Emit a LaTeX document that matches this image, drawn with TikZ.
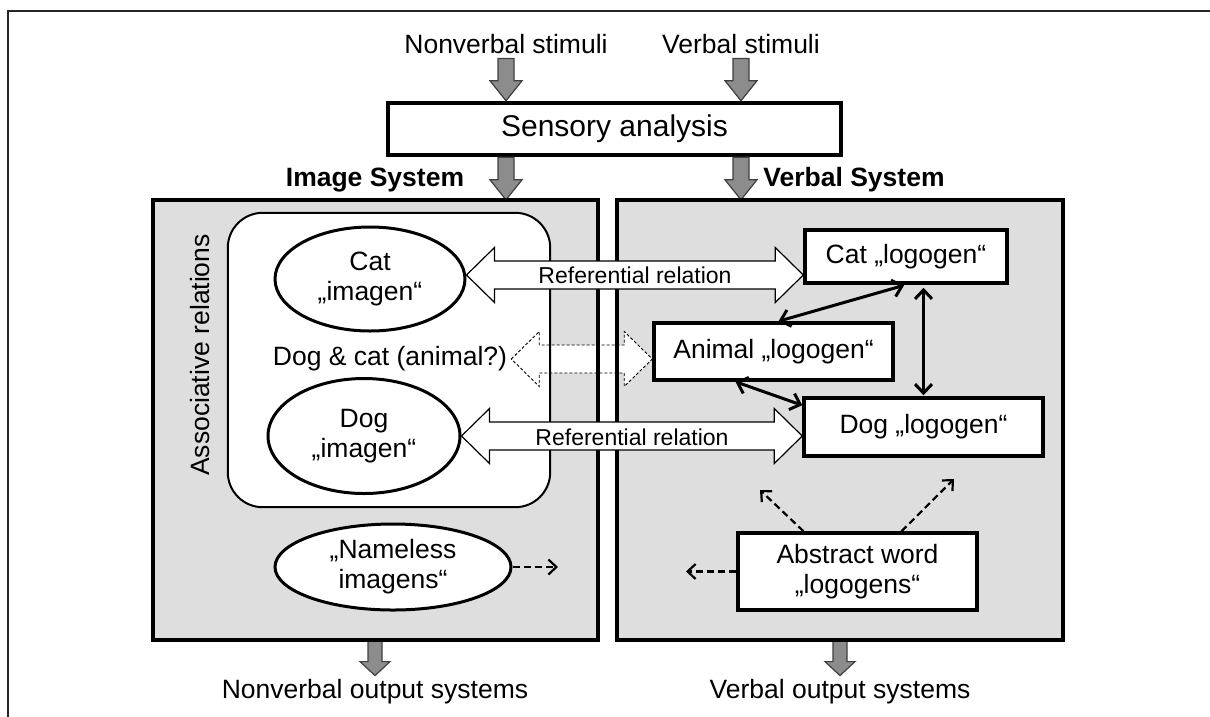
\documentclass[tikz,border=0pt]{standalone}
\usepackage{fontspec}
\setmainfont{Liberation Sans}
\usetikzlibrary{shapes.geometric,arrows.meta,calc}
\definecolor{boxgray}{HTML}{DEDEDE}
\definecolor{arrgray}{HTML}{8C8C8C}
\definecolor{arrborder}{HTML}{404040}
\newcommand{\fsmain}{\fontsize{26.5}{30}\selectfont}
% gray block arrow: start, tip, shaft half width, head half width, head length
\newcommand{\grayarrow}[5]{\draw[grayarr] let \p1=(#1),\p2=(#2) in
  (\x1-#3,\y1) -- (\x1+#3,\y1) -- (\x1+#3,\y2+#5) -- (\x1+#4,\y2+#5) -- (\x1,\y2)
  -- (\x1-#4,\y2+#5) -- (\x1-#3,\y2+#5) -- cycle;}
% horizontal double block arrow: style, left tip, right tip (y of left tip)
\newcommand{\dblblock}[3]{\draw[#1] let \p1=(#2),\p2=(#3) in
  (\x1,\y1) -- (\x1+28,\y1+27.5) -- (\x1+28,\y1+14) -- (\x2-28,\y1+14) -- (\x2-28,\y1+27.5)
  -- (\x2,\y1) -- (\x2-28,\y1-27.5) -- (\x2-28,\y1-14) -- (\x1+28,\y1-14) -- (\x1+28,\y1-27.5) -- cycle;}
\begin{document}
\begin{tikzpicture}[x=1pt,y=-1pt,
  txt/.style={font=\fsmain, inner sep=0pt, align=center},
  txtb/.style={font=\fsmain\bfseries, inner sep=0pt},
  sysfill/.style={rectangle, fill=boxgray, draw=none, inner sep=0pt},
  sysborder/.style={draw=black, line width=4.5pt},
  sensbox/.style={rectangle, draw=black, fill=white, line width=4.5pt, font=\fontsize{30}{34}\selectfont, inner sep=0pt},
  logbox/.style={rectangle, draw=black, fill=white, line width=3.5pt, font=\fsmain, align=center, inner sep=0pt},
  img/.style={ellipse, draw=black, fill=white, line width=3pt, font=\fsmain, align=center, inner sep=0pt},
  grayarr/.style={fill=arrgray, draw=arrborder, line width=1.2pt},
  refarr/.style={fill=white, draw=black, line width=1.2pt},
  dasharr/.style={fill=white, draw=black, line width=0.9pt, dash pattern=on 3pt off 2pt},
  reltxt/.style={font=\fontsize{23}{26}\selectfont, inner sep=0pt},
  dbl/.style={draw=black, line width=3pt, {Straight Barb[length=9pt,width=17pt]}-{Straight Barb[length=9pt,width=17pt]}},
  dsh/.style={draw=black, line width=2.2pt, dash pattern=on 7pt off 4pt, -{Straight Barb[length=8pt,width=15pt]}}
]
\useasboundingbox (0,0) rectangle (1210,716);
% outer frame (cut at the picture edge)
\draw[line width=2pt, black!85] (8,720) -- (8,11) -- (1215,11);

% top texts
\node[txt, anchor=base] (nvs) at (506,53) {Nonverbal stimuli};
\node[txt, anchor=base] (vs) at (741,53) {Verbal stimuli};
\node[sensbox, minimum width=453pt, minimum height=52pt] (sens) at (614.5,129) {Sensory analysis};

% system boxes (fills)
\node[sysfill, minimum width=445pt, minimum height=440pt] (imgbox) at (375.5,420) {};
\node[sysfill, minimum width=446pt, minimum height=440pt] (vbox) at (840,420) {};
\node[rectangle, fill=white, rounded corners=35pt, minimum width=322pt, minimum height=294pt, inner sep=0pt] (assoc) at (389,360) {};

\node[txtb, anchor=base] (imgsys) at (375,186) {Image System};
\node[txtb, anchor=base] (vsys) at (854,186) {Verbal System};

\node[txt, anchor=base] (nvout) at (375,698) {Nonverbal output systems};
\node[txt, anchor=base] (vout) at (840,698) {Verbal output systems};

% gray arrows
\grayarrow{$(nvs.south)+(0,5)$}{sens.north -| nvs.south}{8}{16}{20}
\grayarrow{$(vs.south)+(0,5)$}{sens.north -| vs.south}{8}{16}{20}
\grayarrow{sens.south -| nvs.south}{imgbox.north -| nvs.south}{8}{16}{20}
\grayarrow{sens.south -| vs.south}{vbox.north -| vs.south}{8}{16}{20}
\grayarrow{imgbox.south -| nvout.north}{$(nvout.north)+(0,-3)$}{7}{15}{14}
\grayarrow{vbox.south -| vout.north}{$(vout.north)+(0,-3)$}{7}{15}{14}

% nodes inside
\node[txt] (dogcat) at (390,359) {Dog \& cat (animal?)};
\node[logbox, minimum width=239pt, minimum height=57pt] (animal) at (773.5,351.5) {Animal „logogen“};

% dashed block arrow (behind borders)
\dblblock{dasharr}{$(dogcat.east)+(4,0)$}{animal.west}

% borders
\draw[sysborder] (imgbox.north west) rectangle (imgbox.south east);
\draw[sysborder] (vbox.north west) rectangle (vbox.south east);
\draw[line width=2pt, rounded corners=35pt] (assoc.north west) rectangle (assoc.south east);

% image nodes
\node[img, minimum width=190pt, minimum height=104pt] (catimg) at (370,279) {Cat\\„imagen“};
\node[img, minimum width=192pt, minimum height=115pt] (dogimg) at (364,436) {Dog\\„imagen“};
\node[img, minimum width=236pt, minimum height=86pt] (nameless) at (393,567) {„Nameless\\imagens“};
\node[txt, rotate=90] (assoclbl) at (200,355) {Associative relations};

% logogens
\node[logbox, minimum width=202pt, minimum height=53pt] (catlog) at (906,256.5) {Cat „logogen“};
\node[logbox, minimum width=239pt, minimum height=58pt] (doglog) at (923.5,427) {Dog „logogen“};
\node[logbox, minimum width=239pt, minimum height=77pt] (abstract) at (857.5,571.5) {Abstract word\\„logogens“};

% referential relations
\dblblock{refarr}{$(catimg.east)+(0,-4)$}{catlog.west}
\dblblock{refarr}{dogimg.east}{doglog.west}
\node[reltxt] (ref1) at (635,275) {Referential relation};
\node[reltxt] (ref2) at (632,437) {Referential relation};

% associations between logogens
\draw[dbl, shorten <=2pt] (catlog.south) -- ([xshift=5pt]animal.north);
\draw[dbl, shorten <=3pt, shorten >=1pt] (doglog.north |- catlog.south) -- (doglog.north);
\draw[dbl] ([xshift=-38pt]animal.south) -- ([yshift=-9pt]doglog.north west);

% dashed arrows
\coordinate (namelessEnd) at (558,567);
\coordinate (absLeft) at (686,571.5);
\coordinate (absUL) at (760,490);
\coordinate (absUR) at (954,479);
\draw[dsh] (nameless.east) -- (namelessEnd);
\draw[dsh] (abstract.west) -- (absLeft);
\draw[dsh] ([xshift=-54pt]abstract.north) -- (absUL);
\draw[dsh] ([xshift=44pt]abstract.north) -- (absUR);
\end{tikzpicture}
\end{document}
